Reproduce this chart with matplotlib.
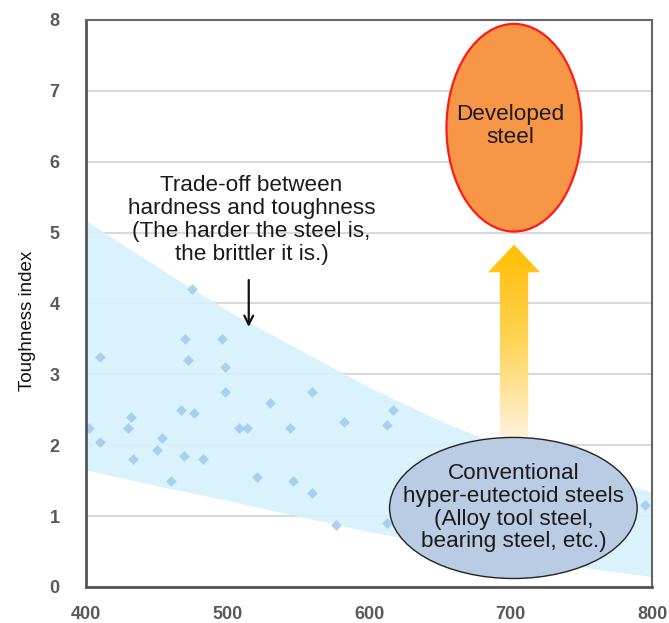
import numpy as np
import matplotlib
matplotlib.use("Agg")
import matplotlib.pyplot as plt
from matplotlib.patches import Ellipse, Polygon
from matplotlib.colors import LinearSegmentedColormap

plt.rcParams["font.family"] = ["Liberation Sans", "DejaVu Sans"]

# measured steels: hardness (x) vs toughness index (y)
hardness = [402, 410, 410, 430, 432, 433, 450, 454, 460, 467, 470, 469, 472,
            475, 476, 483, 496, 498, 498, 508, 514, 521, 530, 544, 546, 560,
            560, 577, 582, 613, 617, 613, 795]
toughness = [2.25, 3.25, 2.05, 2.25, 2.4, 1.8, 1.93, 2.1, 1.5, 2.5, 3.5, 1.85,
             3.2, 4.2, 2.45, 1.8, 3.5, 3.1, 2.75, 2.25, 2.25, 1.55, 2.6, 2.25,
             1.5, 2.75, 1.33, 0.88, 2.33, 2.28, 2.5, 0.9, 1.15]

# trade-off band
band_x = [400, 450, 500, 550, 600, 650, 700, 750, 800]
band_upper = [5.17, 4.52, 3.9, 3.36, 2.82, 2.35, 1.94, 1.6, 1.34]
band_lower = [1.65, 1.43, 1.22, 1.0, 0.78, 0.6, 0.43, 0.28, 0.145]

x_ticks = [400, 500, 600, 700, 800]
y_ticks = [0, 1, 2, 3, 4, 5, 6, 7, 8]

tradeoff_text = ("Trade-off between\nhardness and toughness\n"
                 "(The harder the steel is,\nthe brittler it is.)")
developed_text = "Developed\nsteel"
conventional_text = ("Conventional\nhyper-eutectoid steels\n"
                     "(Alloy tool steel,\nbearing steel, etc.)")

fig = plt.figure(figsize=(6.69, 6.23), dpi=100)
ax = fig.add_axes([0.1286, 0.0578, 0.8460, 0.9101])

ax.set_axisbelow(True)
ax.yaxis.grid(True, color="#d9d9d9", linewidth=1.5, zorder=0)

ax.fill_between(band_x, band_lower, band_upper, color="#d6f1fc", alpha=0.9,
                linewidth=0, zorder=1)
ax.scatter(hardness, toughness, marker="D", s=30, color="#9ccaf0", alpha=0.85,
           linewidths=0, zorder=2)

# trade-off note with downward arrow
ax.text(517, 5.18, tradeoff_text, ha="center", va="center", fontsize=16.2,
        color="#1a1a1a", linespacing=1.12, zorder=5)
ax.annotate("", xy=(515, 3.63), xytext=(515, 4.37),
            arrowprops=dict(arrowstyle="->", lw=1.6, color="#111111",
                            mutation_scale=16), zorder=5)

# gradient arrow between the two ellipses
arr_x, arr_bottom, arr_head, arr_tip = 702.5, 2.1, 4.44, 4.83
shaft_hw, head_hw = 10.0, 18.4
arrow_pts = [(arr_x - shaft_hw, arr_bottom), (arr_x - shaft_hw, arr_head),
             (arr_x - head_hw, arr_head), (arr_x, arr_tip),
             (arr_x + head_hw, arr_head), (arr_x + shaft_hw, arr_head),
             (arr_x + shaft_hw, arr_bottom)]
arrow_poly = Polygon(arrow_pts, closed=True, facecolor="none", edgecolor="none",
                     zorder=3)
ax.add_patch(arrow_poly)
grad_cmap = LinearSegmentedColormap.from_list(
    "grad", [(0, "#fff2dc"), (0.5, "#ffd457"), (0.85, "#ffc31a"), (1, "#ffc000")])
grad = np.linspace(0, 1, 256).reshape(-1, 1)
im = ax.imshow(grad, cmap=grad_cmap, origin="lower", aspect="auto",
               extent=[arr_x - head_hw, arr_x + head_hw, arr_bottom, arr_tip],
               zorder=3)
im.set_clip_path(arrow_poly)

# ellipses
ax.add_patch(Ellipse((702.5, 6.48), 95.5, 2.93, facecolor="#f79646",
                     edgecolor="#ff1a1a", linewidth=1.6, zorder=4))
ax.text(700, 6.5, developed_text, ha="center", va="center", fontsize=16.2,
        color="#1a1a1a", linespacing=1.12, zorder=5)

ax.add_patch(Ellipse((702, 1.115), 175, 1.99, facecolor="#b9cce4",
                     edgecolor="#222222", linewidth=1.0, zorder=4))
ax.text(702, 1.12, conventional_text, ha="center", va="center", fontsize=16.2,
        color="#1a1a1a", linespacing=1.12, zorder=5)

ax.set_xlim(400, 800)
ax.set_ylim(0, 8)
ax.set_xticks(x_ticks)
ax.set_yticks(y_ticks)
ax.tick_params(length=0, labelsize=13, labelcolor="#595959", pad=14)
ax.tick_params(axis="y", pad=19)
for lbl in ax.get_xticklabels() + ax.get_yticklabels():
    lbl.set_fontweight("bold")
for side in ["left", "bottom"]:
    ax.spines[side].set_color("#555555")
    ax.spines[side].set_linewidth(2)
for side in ["top", "right"]:
    ax.spines[side].set_color("#666666")
    ax.spines[side].set_linewidth(1.5)

ax.set_ylabel("Toughness index", fontsize=13.5, color="#111111")
ax.yaxis.set_label_coords(-0.088, 0.469)

fig.savefig("out.png", dpi=100)
